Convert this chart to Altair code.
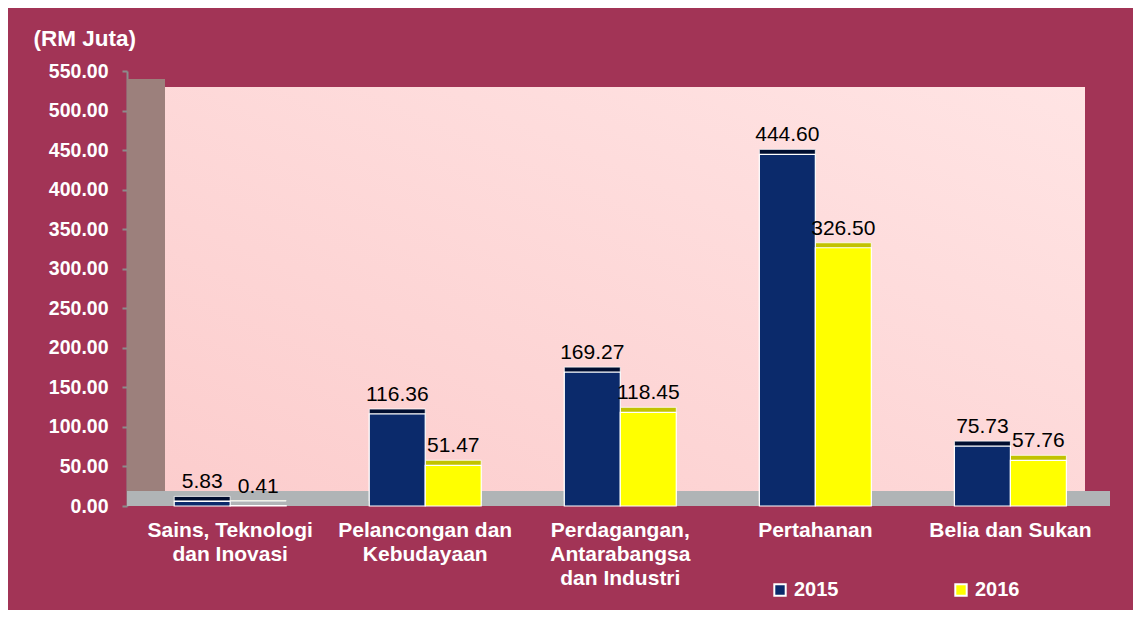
import altair as alt
import pandas as pd

categories = ["Sains, Teknologi|dan Inovasi", "Pelancongan dan|Kebudayaan",
              "Perdagangan,|Antarabangsa|dan Industri", "Pertahanan", "Belia dan Sukan"]
years = ["2015", "2016"]
values_2015 = [5.83, 116.36, 169.27, 444.60, 75.73]
values_2016 = [0.41, 51.47, 118.45, 326.50, 57.76]
y_ticks = [0, 50, 100, 150, 200, 250, 300, 350, 400, 450, 500, 550]

rows = []
for c, v in zip(categories, values_2015):
    rows.append({"category": c, "year": "2015", "value": v})
for c, v in zip(categories, values_2016):
    rows.append({"category": c, "year": "2016", "value": v})
df = pd.DataFrame(rows)

W, H = 978, 435
FONT = "Liberation Sans"
BG = "#A23456"

xenc = alt.X("category:N", sort=categories,
             scale=alt.Scale(paddingInner=0.426, paddingOuter=0.22, align=0.55),
             axis=alt.Axis(title=None, labelAngle=0, labelFont=FONT, labelFontSize=21,
                           labelFontWeight="bold", labelColor="white", labelPadding=13,
                           domain=False, ticks=False, labelExpr="split(datum.label, '|')",
                           labelLineHeight=24, labelBaseline="top", labelLimit=300))
yenc = alt.Y("value:Q", scale=alt.Scale(domain=[0, 550], nice=False),
             axis=alt.Axis(values=y_ticks, format=".2f", grid=False, labelOverlap=False,
                           domainColor="#8C8C8C", domainWidth=2, tickColor="#8C8C8C",
                           tickSize=5, tickWidth=2, labelFont=FONT, labelFontSize=19.5,
                           labelFontWeight="bold", labelColor="white", labelPadding=14,
                           title="(RM Juta)", titleAngle=0, titleX=-94, titleY=-44,
                           titleAlign="left", titleBaseline="top", titleFont=FONT,
                           titleFontSize=22.5, titleFontWeight="bold", titleColor="white"))

one = alt.Data(values=[{}])

left_wall = alt.Chart(one).mark_rect(color="#9C807C").encode(
    x=alt.value(0), x2=alt.value(38), y=alt.value(8), y2=alt.value(H))
back_wall = alt.Chart(one).mark_rect(
    color=alt.Gradient(gradient="linear",
                       stops=[alt.GradientStop(color="#FCCDCD", offset=0),
                              alt.GradientStop(color="#FFE4E4", offset=1)],
                       x1=0, y1=1, x2=1, y2=0)).encode(
    x=alt.value(38), x2=alt.value(958), y=alt.value(16), y2=alt.value(H - 15))
floor = alt.Chart(one).mark_rect(color="#B0B4B6").encode(
    x=alt.value(0), x2=alt.value(983), y=alt.value(H - 15), y2=alt.value(H))

base = alt.Chart(df).encode(x=xenc, xOffset=alt.XOffset("year:N", sort=years), y=yenc)

back_bars = base.mark_bar(xOffset=4, x2Offset=4, yOffset=-5, y2Offset=-5,
                          stroke="white", strokeWidth=0.8).encode(
    fill=alt.condition(alt.datum.year == "2015", alt.value("#000E30"), alt.value("#C2C200")))

front_bars = base.mark_bar(stroke="white", strokeWidth=1.2).encode(
    color=alt.Color("year:N", sort=years,
                    scale=alt.Scale(domain=years, range=["#0B2A6B", "#FFFF00"]),
                    legend=alt.Legend(title=None, orient="none", legendX=643, legendY=509,
                                      direction="horizontal", symbolType="square",
                                      symbolSize=130, symbolStrokeColor="white",
                                      symbolStrokeWidth=2, symbolOpacity=1,
                                      labelFont=FONT, labelFontSize=20,
                                      labelFontWeight="bold", labelColor="white",
                                      labelOffset=4, columnPadding=112)))

labels = base.mark_text(font=FONT, fontSize=21, color="black", baseline="alphabetic",
                        dy=-13).encode(text=alt.Text("value:Q", format=".2f"))

chart = alt.layer(left_wall, back_wall, floor, back_bars, front_bars, labels).properties(
    width=W, height=H, background=BG,
    padding={"left": 119, "top": 63, "right": 28, "bottom": 104},
    autosize=alt.AutoSizeParams(type="none"),
).configure_view(stroke=None)

chart.save("out.html", embed_options={"renderer": "svg", "actions": False})
